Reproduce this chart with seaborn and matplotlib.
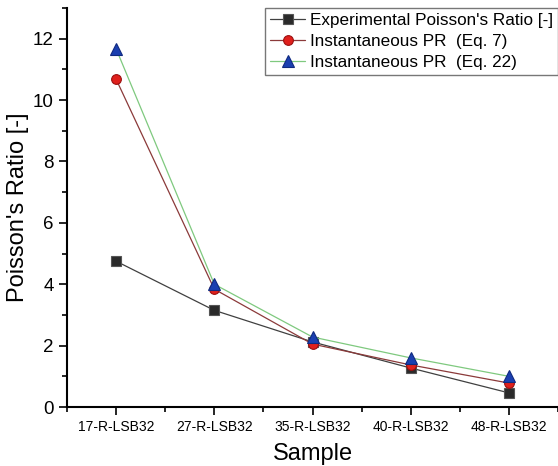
import matplotlib
matplotlib.use("Agg")
import matplotlib.pyplot as plt
import seaborn as sns
import pandas as pd
import numpy as np
from matplotlib.ticker import MultipleLocator, FixedLocator

samples = ["17-R-LSB32", "27-R-LSB32", "35-R-LSB32", "40-R-LSB32", "48-R-LSB32"]
experimental = [4.75, 3.15, 2.12, 1.27, 0.46]
inst_eq7 = [10.68, 3.84, 2.05, 1.37, 0.78]
inst_eq22 = [11.67, 4.00, 2.28, 1.60, 1.00]

labels = ["Experimental Poisson's Ratio [-]", "Instantaneous PR  (Eq. 7)", "Instantaneous PR  (Eq. 22)"]

sns.set_theme(style="ticks")
plt.rcParams['font.family'] = ['Liberation Sans', 'DejaVu Sans']
plt.rcParams['text.color'] = 'black'
plt.rcParams['axes.labelcolor'] = 'black'
plt.rcParams['xtick.color'] = 'black'
plt.rcParams['ytick.color'] = 'black'

fig = plt.figure(figsize=(5.58, 4.66), dpi=100)
ax = fig.add_axes([67/558, 1-407/466, 491/558, 399/466])

xpos = np.arange(len(samples))
series = [
    (experimental, labels[0], "#404040", "s", "#2a2a2a", "#555555", 6.5),
    (inst_eq7, labels[1], "#8b3a3a", "o", "#e0201c", "#9b1010", 7),
    (inst_eq22, labels[2], "#7fc97f", "^", "#1a3fb0", "#102a80", 8),
]
for vals, lab, lc, mk, mfc, mec, ms in series:
    df = pd.DataFrame({"x": xpos, "y": vals})
    sns.lineplot(data=df, x="x", y="y", ax=ax, color=lc, lw=0.9, marker=mk,
                 markersize=ms, markerfacecolor=mfc, markeredgecolor=mec,
                 markeredgewidth=0.8, label=lab)

ax.set_xlim(-0.5, 4.5)
ax.set_ylim(0, 13)
ax.set_xticks(xpos)
ax.set_xticklabels(samples, fontsize=10)
ax.xaxis.set_minor_locator(FixedLocator(np.arange(-0.5, 4.6, 1.0)))
ax.yaxis.set_major_locator(MultipleLocator(2))
ax.yaxis.set_minor_locator(MultipleLocator(1))
ax.tick_params(axis='y', labelsize=13.5)
ax.tick_params(which='major', direction='out', length=6, width=1.2, color='black')
ax.tick_params(which='minor', direction='out', length=3.5, width=1.2, color='black')
ax.set_xlabel("Sample", fontsize=17, labelpad=6)
ax.set_ylabel("Poisson's Ratio [-]", fontsize=17, labelpad=3)
for s in ["top", "right"]:
    ax.spines[s].set_visible(False)
for s in ["left", "bottom"]:
    ax.spines[s].set_linewidth(1.5)
    ax.spines[s].set_color("black")

leg = ax.legend(loc="upper right", bbox_to_anchor=(1.0, 1.0), fontsize=12.3,
                frameon=True, fancybox=False, edgecolor="#555555",
                handlelength=2.0, handletextpad=0.3, borderpad=0.3,
                labelspacing=0.35, borderaxespad=0.0)
leg.get_frame().set_linewidth(1.0)

fig.savefig("out.png", dpi=100)
